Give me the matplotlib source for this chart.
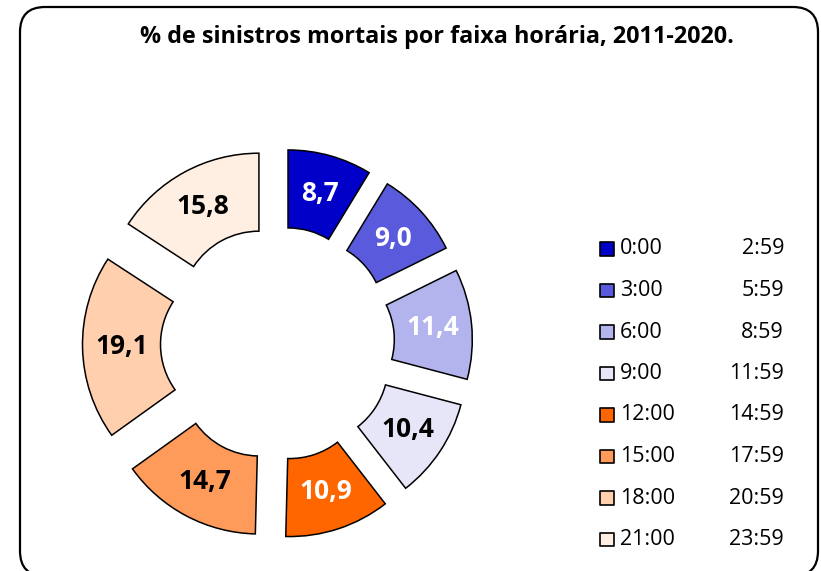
import matplotlib
matplotlib.use("Agg")
import matplotlib.pyplot as plt
from matplotlib.patches import FancyBboxPatch
from matplotlib.transforms import IdentityTransform

plt.rcParams['font.family'] = ['Open Sans', 'DejaVu Sans']

# data
start_times = ['0:00', '3:00', '6:00', '9:00', '12:00', '15:00', '18:00', '21:00']
end_times = ['2:59', '5:59', '8:59', '11:59', '14:59', '17:59', '20:59', '23:59']
pct = [8.7, 9.0, 11.4, 10.4, 10.9, 14.7, 19.1, 15.8]
colors = ['#0000C8', '#5A5ADC', '#B3B3EE', '#E6E6F8',
          '#FF6600', '#FF9B5A', '#FFCFAE', '#FFEFE3']
label_colors = ['white', 'white', 'white', 'black',
                'white', 'black', 'black', 'black']

W, H = 821, 571
fig = plt.figure(figsize=(W / 100, H / 100), dpi=100)

# rounded frame (bottom runs off the picture)
frame = FancyBboxPatch((20, -5), 798, 569, boxstyle="round,pad=0,rounding_size=25",
                       transform=IdentityTransform(), facecolor='none',
                       edgecolor='black', linewidth=1.6, zorder=5)
fig.patches.append(frame)

fig.text(437 / W, 1 - 37 / H, '% de sinistros mortais por faixa horária, 2011-2020.',
         ha='center', va='center', fontsize=16.8, fontweight='bold')

# donut
cx, cy, scale = 277.5, 343.5, 156.0
half = 200
ax = fig.add_axes([(cx - half) / W, (H - cy - half) / H, 2 * half / W, 2 * half / H])

wedges, texts, autotexts = ax.pie(
    pct, colors=colors, startangle=90, counterclock=False,
    explode=[0.25] * len(pct), radius=1.0,
    autopct=lambda p: '', pctdistance=0.75,
    wedgeprops=dict(width=0.5, edgecolor='black', linewidth=1.1))
ax.axis('off')
ax.set_xlim(-half / scale, half / scale)
ax.set_ylim(-half / scale, half / scale)
for t, v, c in zip(autotexts, pct, label_colors):
    t.set_text(f'{v:.1f}'.replace('.', ','))
    t.set_color(c)
    t.set_fontsize(19)
    t.set_fontweight('bold')

# legend
lax = fig.add_axes([590 / W, (H - 560) / H, 220 / W, 330 / H])
lax.set_xlim(590, 810)
lax.set_ylim(560, 230)
lax.axis('off')
rows = [249 + i * 41.5 for i in range(len(start_times))]
lax.scatter([607] * len(rows), rows, s=90, marker='s', c=colors,
            edgecolors='black', linewidths=1.2)
for y, s, e in zip(rows, start_times, end_times):
    lax.text(620, y, s, ha='left', va='center', fontsize=15.5)
    lax.text(784, y, e, ha='right', va='center', fontsize=15.5)

fig.savefig('out.png', dpi=100)
